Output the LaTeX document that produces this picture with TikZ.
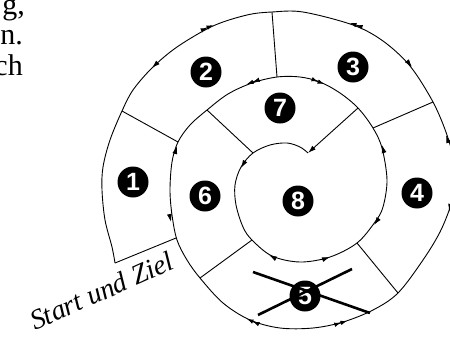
\documentclass[tikz,border=0pt]{standalone}
\usepackage{fontspec}
\setmainfont{Liberation Serif}
\newfontfamily\badgefont{Liberation Sans}
\usetikzlibrary{arrows.meta}
\tikzset{
  spiralline/.style={line width=0.9pt, line join=round},
  radial/.style={line width=0.9pt},
  amark/.style={line width=0.9pt, -{Latex[length=8pt,width=5pt]}},
  amarktwo/.style={line width=0.9pt, -{Latex[length=6.5pt,width=4.6pt] Latex[length=6.5pt,width=4.6pt]}},
  badge/.style={circle, fill=black, inner sep=0pt, minimum size=31pt, text=white,
    font=\badgefont\bfseries\fontsize{25}{25}\selectfont},
  crossline/.style={line width=2.6pt},
  bodytext/.style={font=\fontsize{30}{30}\selectfont, inner sep=0pt, anchor=base east}
}
\begin{document}
\begin{tikzpicture}[x=1pt,y=-1pt]
\useasboundingbox (0,0) rectangle (450,341);
\clip (0,0) rectangle (450,341);

% cut-off body text
\node[bodytext] (t1) at (25,14) {g,};
\node[bodytext] (t2) at (23,44.5) {n.};
\node[bodytext] (t3) at (23,75) {ch};

% spiral
\draw[spiralline] plot[smooth, tension=0.55] coordinates {
(115,263) (112,247) (105,220) (102,190) (103,167) (110,140) (122,111) (133,90)
(152,68) (177,47) (213,26) (247,15) (272,12) (303,12) (353,25) (383,41) (410,66)
(433,102) (447,135) (455,165) (456,185) (451,205) (440,232) (423,260) (398,293)
(373,310) (343,322) (313,328) (280,328) (250,320) (223,303) (200,278) (187,260)
(177,240) (172,215) (170,190) (172,162) (178,142) (190,125) (207,110) (228,94)
(252,83) (277,77) (300,77) (320,82) (340,93) (358,108) (373,128) (382,148)
(387,180) (383,207) (375,222) (357,243) (330,257) (300,262) (272,256) (252,240)
(243,227) (236,205) (235,185) (241,167) (253,153) (270,145) (287,143) (300,147)
(308,153)};

% radial separators
\coordinate (r0a) at (115,263); \coordinate (r0b) at (176,238);
\coordinate (r12a) at (122,111); \coordinate (r12b) at (178,142);
\coordinate (r23a) at (272,12); \coordinate (r23b) at (277,77);
\coordinate (r34a) at (433,102); \coordinate (r34b) at (373,128);
\coordinate (r45a) at (398,293); \coordinate (r45b) at (357,243);
\coordinate (r56a) at (200,278); \coordinate (r56b) at (252,240);
\coordinate (r67a) at (207,110); \coordinate (r67b) at (253,153);
\coordinate (r78a) at (358,108); \coordinate (r78b) at (308,153);
\draw[radial] (r0a) -- (r0b);
\draw[radial] (r12a) -- (r12b);
\draw[radial] (r23a) -- (r23b);
\draw[radial] (r34a) -- (r34b);
\draw[radial] (r45a) -- (r45b);
\draw[radial] (r56a) -- (r56b);
\draw[radial] (r67a) -- (r67b);
\draw[amark] (r78a) -- (r78b);

% arrow marks along the track
\draw[amark] (157.8,62.4) -- (152,68);
\draw[amarktwo] (203,29.6) -- (213,25);
\draw[amarktwo] (360.4,26.5) -- (350,23);
\draw[amark] (407,60.8) -- (412,67);
\draw[amark] (448.6,142.5) -- (446,135);
\draw[amark] (450.6,204.2) -- (449,212);
\draw[amark] (174.8,153.7) -- (177,146);
\draw[amark] (169.4,214.2) -- (171,222);
\draw[amarktwo] (256.2,323) -- (247,319);
\draw[amarktwo] (337.4,323.9) -- (347,321);
\draw[amarktwo] (256.4,80.7) -- (247,84);
\draw[amarktwo] (314.7,80.3) -- (324,84);
\draw[amark] (384.1,152.8) -- (382,145);
\draw[amark] (378.6,218.5) -- (374,225);
\draw[amark] (276,258.8) -- (269,255);
\draw[amark] (322.4,259.6) -- (330,257);
\draw[amark] (245.1,161.1) -- (241,168);

% field badges
\node[badge] (f1) at (133,182) {1};
\node[badge] (f2) at (206,72) {2};
\node[badge] (f3) at (353,67) {3};
\node[badge] (f4) at (417,193) {4};
\node[badge] (f5) at (305,296) {5};
\node[badge] (f6) at (205,196) {6};
\node[badge] (f7) at (280,108) {7};
\node[badge] (f8) at (298,201) {8};

% cross over field 5
\coordinate (xa1) at (253,272); \coordinate (xa2) at (370,313);
\coordinate (xb1) at (258,315); \coordinate (xb2) at (352,269);
\draw[crossline] (xa1) -- (xa2);
\draw[crossline] (xb1) -- (xb2);

% start label
\node[rotate=24, anchor=base east, inner sep=0pt,
      font=\itshape\fontsize{28}{28}\selectfont] (start) at (176,268) {Start und Ziel};
\end{tikzpicture}
\end{document}
